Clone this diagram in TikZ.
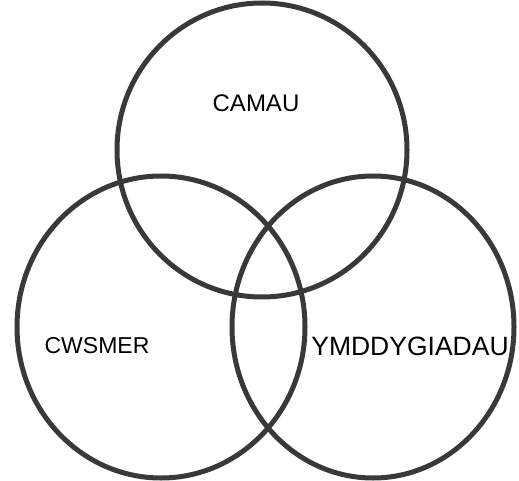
\documentclass[tikz,border=0pt]{standalone}
\usepackage{fontspec}
\setmainfont{Liberation Sans}
\definecolor{ring}{HTML}{3A3839}
\begin{document}
\begin{tikzpicture}[x=1pt,y=-1pt,
  ringline/.style={draw=ring,line width=5pt},
  lbl/.style={font=\fontsize{24}{28}\selectfont,text=black,inner sep=0pt}]
\useasboundingbox (0,0) rectangle (519,481);
\draw[ringline] (262,150) ellipse [x radius=145, y radius=147];
\draw[ringline] (161,327) ellipse [x radius=144, y radius=151];
\draw[ringline] (373,327) ellipse [x radius=141, y radius=151];
\node[lbl] (camau) at (256,103) {CAMAU};
\node[lbl,font=\fontsize{23}{27}\selectfont] (cwsmer) at (97,346) {CWSMER};
\node[lbl,font=\fontsize{26.5}{30}\selectfont] (ymd) at (410,346) {YMDDYGIADAU};
\end{tikzpicture}
\end{document}
